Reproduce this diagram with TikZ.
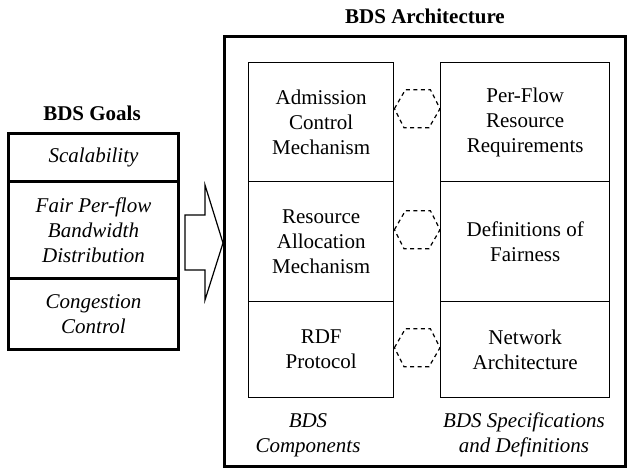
\documentclass[tikz,border=0pt]{standalone}
\usepackage{fontspec}
\setmainfont{Liberation Serif}
\begin{document}
\begin{tikzpicture}[x=1pt,y=-1pt,
  txt/.style={font=\fontsize{21}{25}\selectfont, align=center},
  cell/.style={draw, line width=1.4pt, anchor=north west, inner sep=0pt, txt},
  goal/.style={draw, line width=3pt, anchor=north west, inner sep=0pt, txt, font=\fontsize{21}{25}\selectfont\itshape},
  link/.style={line width=1.2pt, dash pattern=on 4pt off 3.5pt}
]
\useasboundingbox (0,0) rectangle (629,468);

% titles
\node[txt, font=\fontsize{21}{25}\selectfont\bfseries] (archtitle) at (425,16) {BDS Architecture};
\node[txt, font=\fontsize{21}{25}\selectfont\bfseries] (goaltitle) at (92,113) {BDS Goals};

% goals stack
\node[goal, minimum width=170pt, minimum height=48pt] (g1) at (7,132) {Scalability};
\node[goal, minimum width=170pt, minimum height=97pt] (g2) at (7,180) {Fair Per-flow\\Bandwidth\\Distribution};
\node[goal, minimum width=170pt, minimum height=71pt] (g3) at (7,277) {Congestion\\Control};

% block arrow towards the architecture
\draw[line width=1.2pt, line join=miter]
  (185,215) -- (205,215) -- (205,185) -- (223,243) -- (205,300) -- (205,270) -- (185,270) -- cycle;

% architecture frame
\draw[line width=3pt] (224,37) rectangle (625,466);

% components column
\node[cell, minimum width=145pt, minimum height=119pt] (a1) at (248,62) {Admission\\Control\\Mechanism};
\node[cell, minimum width=145pt, minimum height=120pt] (a2) at (248,181) {Resource\\Allocation\\Mechanism};
\node[cell, minimum width=145pt, minimum height=96pt] (a3) at (248,301) {RDF\\Protocol};

% specifications column
\node[cell, minimum width=169pt, minimum height=119pt] (b1) at (440,62) {Per-Flow\\Resource\\Requirements};
\node[cell, minimum width=169pt, minimum height=120pt] (b2) at (440,181) {Definitions of\\Fairness};
\node[cell, minimum width=169pt, minimum height=96pt] (b3) at (440,301) {Network\\Architecture};

% dashed links between the columns
\foreach \i/\dy in {1/13.5, 2/12, 3/2} {
  \draw[link] ([yshift=\dy]a\i.east) -- ++(11,-19) -- ++(25,0) -- ([yshift=\dy]b\i.west)
              -- ++(-11,19) -- ++(-25,0) -- cycle;
}

% column captions
\node[txt, font=\fontsize{21}{25}\selectfont\itshape] (capa) at (308,435) {BDS\\Components};
\node[txt, font=\fontsize{21}{25}\selectfont\itshape] (capb) at (524,435) {BDS Specifications\\and Definitions};
\end{tikzpicture}
\end{document}
